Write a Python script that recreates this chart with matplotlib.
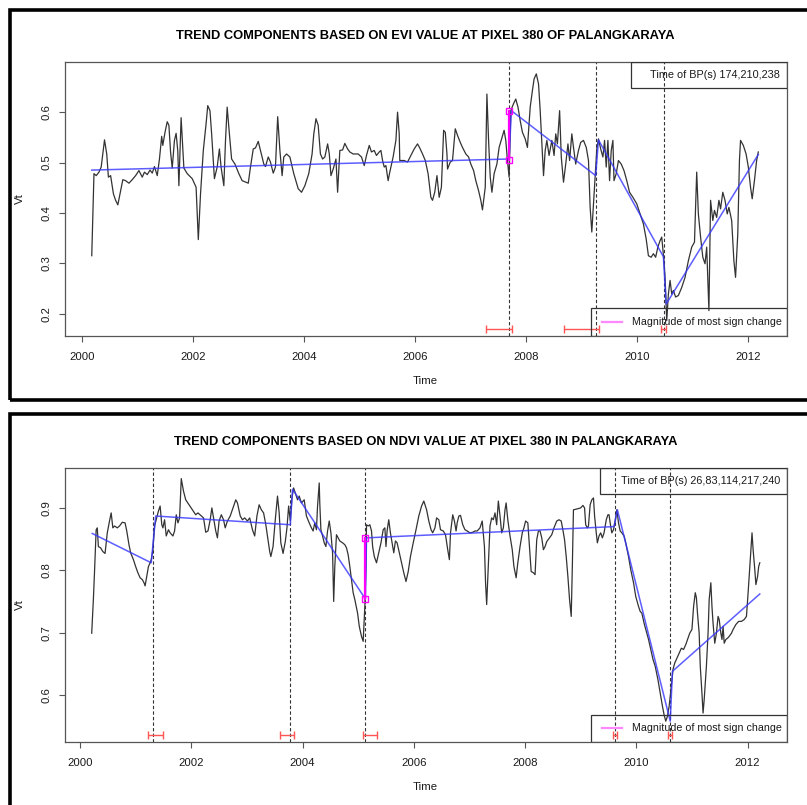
import matplotlib
matplotlib.use("Agg")
import matplotlib.pyplot as plt
from matplotlib.patches import Rectangle

plt.rcParams['font.family'] = ['Liberation Sans', 'DejaVu Sans']

# ---------------- EVI panel data ----------------
evi_title = "TREND COMPONENTS BASED ON EVI VALUE AT PIXEL 380 OF PALANGKARAYA"
evi_time = [
    2000.17, 2000.21, 2000.25, 2000.30, 2000.34, 2000.40, 2000.44, 2000.47, 2000.51, 2000.56,
    2000.60, 2000.64, 2000.69, 2000.73, 2000.78, 2000.84, 2000.90, 2000.96, 2001.02, 2001.08,
    2001.12, 2001.17, 2001.22, 2001.26, 2001.30, 2001.35, 2001.39, 2001.43, 2001.45, 2001.49,
    2001.53, 2001.56, 2001.59, 2001.62, 2001.66, 2001.69, 2001.72, 2001.74, 2001.78, 2001.81,
    2001.83, 2001.89, 2001.98, 2002.05, 2002.09, 2002.13, 2002.18, 2002.23, 2002.26, 2002.30,
    2002.33, 2002.36, 2002.38, 2002.43, 2002.47, 2002.50, 2002.55, 2002.58, 2002.61, 2002.65,
    2002.69, 2002.75, 2002.82, 2002.88, 2002.99, 2003.03, 2003.08, 2003.12, 2003.17, 2003.21,
    2003.27, 2003.30, 2003.35, 2003.39, 2003.44, 2003.48, 2003.52, 2003.56, 2003.60, 2003.63,
    2003.68, 2003.74, 2003.81, 2003.89, 2003.95, 2004.01, 2004.08, 2004.14, 2004.17, 2004.21,
    2004.25, 2004.29, 2004.33, 2004.37, 2004.42, 2004.45, 2004.48, 2004.52, 2004.57, 2004.60,
    2004.64, 2004.69, 2004.73, 2004.78, 2004.82, 2004.88, 2004.97, 2005.03, 2005.08, 2005.12,
    2005.17, 2005.21, 2005.26, 2005.30, 2005.35, 2005.38, 2005.41, 2005.44, 2005.47, 2005.51,
    2005.54, 2005.60, 2005.65, 2005.68, 2005.71, 2005.72, 2005.75, 2005.80, 2005.86, 2005.92,
    2005.98, 2006.04, 2006.08, 2006.13, 2006.18, 2006.23, 2006.28, 2006.31, 2006.35, 2006.39,
    2006.43, 2006.47, 2006.51, 2006.54, 2006.57, 2006.58, 2006.63, 2006.67, 2006.72, 2006.76,
    2006.81, 2006.85, 2006.91, 2006.96, 2007.00, 2007.05, 2007.09, 2007.14, 2007.18, 2007.21,
    2007.26, 2007.29, 2007.32, 2007.35, 2007.38, 2007.42, 2007.47, 2007.51, 2007.56, 2007.60,
    2007.63, 2007.66, 2007.69, 2007.72, 2007.77, 2007.81, 2007.85, 2007.89, 2007.93, 2007.98,
    2008.02, 2008.07, 2008.11, 2008.14, 2008.18, 2008.22, 2008.25, 2008.28, 2008.31, 2008.34,
    2008.37, 2008.41, 2008.46, 2008.50, 2008.53, 2008.56, 2008.60, 2008.63, 2008.67, 2008.71,
    2008.75, 2008.78, 2008.82, 2008.85, 2008.89, 2008.94, 2008.98, 2009.03, 2009.08, 2009.12,
    2009.15, 2009.18, 2009.21, 2009.24, 2009.27, 2009.30, 2009.34, 2009.38, 2009.41, 2009.44,
    2009.47, 2009.50, 2009.53, 2009.56, 2009.58, 2009.62, 2009.66, 2009.71, 2009.76, 2009.81,
    2009.86, 2009.92, 2009.99, 2010.05, 2010.11, 2010.16, 2010.20, 2010.25, 2010.29, 2010.33,
    2010.37, 2010.41, 2010.44, 2010.48, 2010.50, 2010.53, 2010.56, 2010.59, 2010.62, 2010.65,
    2010.69, 2010.74, 2010.80, 2010.86, 2010.92, 2010.98, 2011.03, 2011.07, 2011.10, 2011.14,
    2011.18, 2011.22, 2011.25, 2011.29, 2011.32, 2011.36, 2011.39, 2011.43, 2011.47, 2011.50,
    2011.54, 2011.58, 2011.62, 2011.65, 2011.70, 2011.74, 2011.77, 2011.81, 2011.84, 2011.86,
    2011.91, 2011.96, 2012.00, 2012.04, 2012.07, 2012.11, 2012.15, 2012.18,
]
evi_value = [
    0.315, 0.478, 0.474, 0.481, 0.491, 0.545, 0.517, 0.471, 0.474, 0.438,
    0.425, 0.416, 0.444, 0.466, 0.464, 0.459, 0.466, 0.474, 0.484, 0.471,
    0.481, 0.476, 0.485, 0.479, 0.492, 0.474, 0.507, 0.552, 0.534, 0.560,
    0.581, 0.574, 0.521, 0.489, 0.544, 0.558, 0.523, 0.454, 0.589, 0.530,
    0.489, 0.478, 0.468, 0.451, 0.347, 0.438, 0.524, 0.577, 0.613, 0.603,
    0.557, 0.504, 0.468, 0.491, 0.527, 0.491, 0.454, 0.544, 0.610, 0.557,
    0.507, 0.497, 0.478, 0.464, 0.459, 0.491, 0.527, 0.529, 0.542, 0.524,
    0.497, 0.492, 0.511, 0.501, 0.479, 0.491, 0.591, 0.524, 0.474, 0.511,
    0.517, 0.511, 0.478, 0.448, 0.441, 0.454, 0.478, 0.517, 0.556, 0.587,
    0.574, 0.517, 0.507, 0.511, 0.537, 0.517, 0.474, 0.487, 0.507, 0.441,
    0.524, 0.525, 0.538, 0.527, 0.521, 0.517, 0.517, 0.511, 0.494, 0.514,
    0.534, 0.521, 0.524, 0.514, 0.521, 0.524, 0.504, 0.491, 0.494, 0.464,
    0.481, 0.511, 0.544, 0.600, 0.557, 0.504, 0.504, 0.504, 0.501, 0.514,
    0.527, 0.537, 0.529, 0.517, 0.504, 0.478, 0.431, 0.425, 0.441, 0.474,
    0.431, 0.451, 0.564, 0.560, 0.517, 0.487, 0.501, 0.504, 0.567, 0.554,
    0.540, 0.530, 0.517, 0.511, 0.497, 0.484, 0.464, 0.444, 0.425, 0.406,
    0.451, 0.636, 0.544, 0.471, 0.441, 0.478, 0.497, 0.530, 0.549, 0.564,
    0.544, 0.504, 0.471, 0.603, 0.617, 0.626, 0.610, 0.583, 0.560, 0.547,
    0.530, 0.610, 0.643, 0.666, 0.676, 0.656, 0.603, 0.537, 0.474, 0.524,
    0.544, 0.514, 0.544, 0.514, 0.557, 0.537, 0.603, 0.511, 0.461, 0.497,
    0.537, 0.504, 0.557, 0.530, 0.497, 0.524, 0.540, 0.544, 0.530, 0.504,
    0.411, 0.362, 0.418, 0.474, 0.527, 0.547, 0.527, 0.511, 0.544, 0.491,
    0.544, 0.464, 0.524, 0.544, 0.464, 0.478, 0.504, 0.497, 0.484, 0.464,
    0.441, 0.431, 0.418, 0.398, 0.378, 0.348, 0.315, 0.312, 0.319, 0.312,
    0.332, 0.345, 0.352, 0.305, 0.272, 0.186, 0.239, 0.266, 0.239, 0.246,
    0.233, 0.236, 0.252, 0.272, 0.305, 0.332, 0.342, 0.481, 0.398, 0.352,
    0.312, 0.299, 0.332, 0.206, 0.425, 0.385, 0.405, 0.391, 0.425, 0.408,
    0.441, 0.425, 0.398, 0.411, 0.385, 0.305, 0.272, 0.358, 0.504, 0.544,
    0.534, 0.517, 0.491, 0.451, 0.428, 0.464, 0.504, 0.521,
]
evi_trend_time = [2000.17, 2007.69, 2007.73, 2009.25, 2009.30, 2010.47, 2010.52, 2012.18]
evi_trend_value = [0.485, 0.507, 0.603, 0.474, 0.545, 0.313, 0.219, 0.516]
evi_bp = [174, 210, 238]
evi_start = 2000 + 4 / 23
evi_ci_low = [2007.27, 2008.67, 2010.43]
evi_ci_high = [2007.74, 2009.31, 2010.52]
evi_mag = (2007.69, 0.505, 0.602)

# ---------------- NDVI panel data ----------------
ndvi_title = "TREND COMPONENTS BASED ON NDVI VALUE AT PIXEL 380 IN PALANGKARAYA"
ndvi_time = [
    2000.21, 2000.24, 2000.26, 2000.29, 2000.31, 2000.33, 2000.37, 2000.41, 2000.45, 2000.49,
    2000.53, 2000.56, 2000.59, 2000.62, 2000.67, 2000.71, 2000.76, 2000.81, 2000.84, 2000.88,
    2000.91, 2000.96, 2001.00, 2001.04, 2001.08, 2001.12, 2001.15, 2001.17, 2001.20, 2001.23,
    2001.26, 2001.28, 2001.31, 2001.34, 2001.37, 2001.41, 2001.44, 2001.47, 2001.49, 2001.52,
    2001.55, 2001.59, 2001.62, 2001.67, 2001.70, 2001.73, 2001.76, 2001.79, 2001.82, 2001.86,
    2001.90, 2001.96, 2002.02, 2002.08, 2002.12, 2002.17, 2002.22, 2002.26, 2002.30, 2002.34,
    2002.37, 2002.41, 2002.44, 2002.47, 2002.50, 2002.54, 2002.58, 2002.61, 2002.65, 2002.70,
    2002.75, 2002.80, 2002.83, 2002.88, 2002.92, 2002.96, 2003.01, 2003.05, 2003.10, 2003.14,
    2003.18, 2003.22, 2003.26, 2003.30, 2003.34, 2003.37, 2003.41, 2003.43, 2003.47, 2003.51,
    2003.55, 2003.58, 2003.61, 2003.65, 2003.69, 2003.72, 2003.75, 2003.78, 2003.81, 2003.84,
    2003.87, 2003.91, 2003.94, 2003.98, 2004.03, 2004.07, 2004.12, 2004.16, 2004.19, 2004.22,
    2004.25, 2004.27, 2004.30, 2004.31, 2004.33, 2004.36, 2004.39, 2004.42, 2004.45, 2004.48,
    2004.51, 2004.54, 2004.56, 2004.58, 2004.61, 2004.64, 2004.67, 2004.72, 2004.76, 2004.79,
    2004.82, 2004.85, 2004.88, 2004.91, 2004.94, 2004.99, 2005.02, 2005.06, 2005.09, 2005.12,
    2005.14, 2005.15, 2005.18, 2005.21, 2005.24, 2005.26, 2005.29, 2005.33, 2005.37, 2005.41,
    2005.45, 2005.48, 2005.50, 2005.52, 2005.55, 2005.58, 2005.61, 2005.64, 2005.67, 2005.70,
    2005.74, 2005.78, 2005.82, 2005.86, 2005.90, 2005.94, 2005.99, 2006.04, 2006.09, 2006.14,
    2006.18, 2006.23, 2006.27, 2006.31, 2006.34, 2006.38, 2006.41, 2006.45, 2006.48, 2006.53,
    2006.57, 2006.61, 2006.64, 2006.66, 2006.70, 2006.73, 2006.76, 2006.78, 2006.81, 2006.84,
    2006.88, 2006.92, 2006.96, 2007.01, 2007.06, 2007.10, 2007.14, 2007.19, 2007.23, 2007.27,
    2007.29, 2007.31, 2007.34, 2007.37, 2007.40, 2007.43, 2007.46, 2007.49, 2007.52, 2007.55,
    2007.58, 2007.61, 2007.64, 2007.66, 2007.69, 2007.73, 2007.77, 2007.80, 2007.84, 2007.87,
    2007.91, 2007.95, 2007.98, 2008.01, 2008.05, 2008.08, 2008.11, 2008.15, 2008.18, 2008.21,
    2008.24, 2008.27, 2008.30, 2008.33, 2008.36, 2008.39, 2008.44, 2008.48, 2008.52, 2008.57,
    2008.61, 2008.65, 2008.68, 2008.71, 2008.74, 2008.77, 2008.80, 2008.83, 2008.85, 2008.87,
    2008.92, 2008.96, 2009.00, 2009.04, 2009.07, 2009.09, 2009.12, 2009.14, 2009.17, 2009.20,
    2009.23, 2009.25, 2009.28, 2009.30, 2009.33, 2009.36, 2009.39, 2009.42, 2009.46, 2009.49,
    2009.51, 2009.53, 2009.56, 2009.59, 2009.62, 2009.65, 2009.68, 2009.71, 2009.74, 2009.78,
    2009.81, 2009.86, 2009.90, 2009.95, 2009.99, 2010.04, 2010.07, 2010.10, 2010.14, 2010.17,
    2010.22, 2010.26, 2010.30, 2010.34, 2010.39, 2010.43, 2010.47, 2010.50, 2010.53, 2010.56,
    2010.59, 2010.61, 2010.64, 2010.66, 2010.69, 2010.72, 2010.77, 2010.81, 2010.85, 2010.89,
    2010.93, 2010.96, 2011.00, 2011.03, 2011.06, 2011.08, 2011.10, 2011.13, 2011.15, 2011.18,
    2011.20, 2011.22, 2011.26, 2011.29, 2011.31, 2011.34, 2011.36, 2011.38, 2011.41, 2011.44,
    2011.47, 2011.49, 2011.52, 2011.54, 2011.56, 2011.58, 2011.61, 2011.64, 2011.67, 2011.71,
    2011.74, 2011.79, 2011.84, 2011.89, 2011.94, 2011.98, 2012.01, 2012.04, 2012.08, 2012.10,
    2012.13, 2012.15, 2012.18, 2012.20, 2012.22,
]
ndvi_value = [
    0.699, 0.753, 0.796, 0.865, 0.868, 0.838, 0.836, 0.830, 0.827, 0.860,
    0.879, 0.892, 0.868, 0.871, 0.868, 0.871, 0.877, 0.876, 0.863, 0.841,
    0.828, 0.817, 0.806, 0.796, 0.788, 0.785, 0.780, 0.775, 0.790, 0.806,
    0.812, 0.817, 0.833, 0.871, 0.881, 0.895, 0.903, 0.873, 0.868, 0.881,
    0.855, 0.865, 0.860, 0.855, 0.863, 0.889, 0.876, 0.884, 0.947, 0.927,
    0.913, 0.905, 0.897, 0.889, 0.892, 0.888, 0.884, 0.861, 0.863, 0.881,
    0.900, 0.879, 0.863, 0.852, 0.879, 0.889, 0.881, 0.868, 0.879, 0.887,
    0.900, 0.913, 0.908, 0.887, 0.881, 0.884, 0.879, 0.884, 0.865, 0.855,
    0.887, 0.905, 0.897, 0.892, 0.873, 0.855, 0.830, 0.822, 0.838, 0.881,
    0.919, 0.892, 0.844, 0.827, 0.846, 0.868, 0.903, 0.879, 0.916, 0.932,
    0.924, 0.913, 0.919, 0.908, 0.913, 0.887, 0.876, 0.868, 0.863, 0.876,
    0.865, 0.903, 0.940, 0.908, 0.865, 0.855, 0.844, 0.838, 0.863, 0.879,
    0.860, 0.828, 0.750, 0.806, 0.857, 0.852, 0.847, 0.844, 0.841, 0.836,
    0.825, 0.806, 0.785, 0.764, 0.753, 0.731, 0.710, 0.694, 0.686, 0.742,
    0.806, 0.873, 0.871, 0.873, 0.863, 0.838, 0.822, 0.812, 0.828, 0.844,
    0.865, 0.868, 0.838, 0.863, 0.881, 0.860, 0.844, 0.828, 0.847, 0.844,
    0.828, 0.812, 0.796, 0.782, 0.798, 0.822, 0.844, 0.865, 0.887, 0.903,
    0.911, 0.897, 0.879, 0.865, 0.860, 0.868, 0.884, 0.881, 0.865, 0.863,
    0.857, 0.833, 0.817, 0.860, 0.889, 0.879, 0.863, 0.876, 0.887, 0.888,
    0.873, 0.865, 0.863, 0.860, 0.861, 0.863, 0.863, 0.868, 0.879, 0.838,
    0.780, 0.745, 0.806, 0.871, 0.884, 0.881, 0.892, 0.873, 0.911, 0.887,
    0.860, 0.868, 0.897, 0.908, 0.881, 0.855, 0.833, 0.806, 0.788, 0.812,
    0.838, 0.860, 0.868, 0.879, 0.876, 0.838, 0.798, 0.796, 0.793, 0.849,
    0.863, 0.863, 0.852, 0.833, 0.838, 0.846, 0.852, 0.857, 0.868, 0.879,
    0.881, 0.879, 0.865, 0.849, 0.822, 0.790, 0.753, 0.726, 0.806, 0.897,
    0.898, 0.899, 0.900, 0.904, 0.900, 0.873, 0.868, 0.871, 0.905, 0.913,
    0.916, 0.887, 0.860, 0.844, 0.855, 0.860, 0.852, 0.860, 0.881, 0.889,
    0.889, 0.876, 0.860, 0.865, 0.879, 0.897, 0.876, 0.863, 0.860, 0.855,
    0.844, 0.822, 0.801, 0.780, 0.758, 0.742, 0.734, 0.731, 0.715, 0.705,
    0.689, 0.673, 0.657, 0.646, 0.624, 0.603, 0.582, 0.568, 0.558, 0.566,
    0.582, 0.598, 0.624, 0.641, 0.651, 0.657, 0.667, 0.675, 0.673, 0.681,
    0.691, 0.699, 0.705, 0.742, 0.764, 0.756, 0.731, 0.699, 0.646, 0.603,
    0.571, 0.592, 0.646, 0.699, 0.753, 0.780, 0.742, 0.715, 0.683, 0.699,
    0.726, 0.721, 0.699, 0.689, 0.710, 0.683, 0.689, 0.691, 0.694, 0.699,
    0.705, 0.713, 0.718, 0.718, 0.721, 0.726, 0.764, 0.806, 0.860, 0.833,
    0.801, 0.777, 0.790, 0.806, 0.812,
]
ndvi_trend_time = [2000.22, 2001.28, 2001.36, 2003.78, 2003.82, 2005.13, 2005.15,
                   2009.60, 2009.66, 2010.61, 2010.65, 2012.22]
ndvi_trend_value = [0.859, 0.812, 0.887, 0.873, 0.930, 0.754, 0.852,
                    0.870, 0.897, 0.558, 0.638, 0.762]
ndvi_bp = [26, 83, 114, 217, 240]
ndvi_start = 2000 + 5 / 23
ndvi_ci_low = [2001.22, 2003.60, 2005.08, 2009.59, 2010.57]
ndvi_ci_high = [2001.49, 2003.84, 2005.33, 2009.66, 2010.64]
ndvi_mag = (2005.13, 0.754, 0.852)

x_ticks = [2000, 2002, 2004, 2006, 2008, 2010, 2012]

# ---------------- figure ----------------
W, H = 807, 805
fig = plt.figure(figsize=(W / 100, H / 100), dpi=100)
TXT = '#1a1a1a'
GRAY = '#555555'


def box(l, t, r, b):
    return [l / W, 1 - b / H, (r - l) / W, (b - t) / H]


def panel(frame_top, frame_bottom, ax_top, ax_bottom, title, t, v, tt, tv, bps, start,
          cil, cih, mag, xlim, ylim, yticks, bp_box_left, title_y, xlab_y):
    # outer black frame of the panel
    fig.add_artist(Rectangle((10 / W, 1 - frame_bottom / H), 1.0, (frame_bottom - frame_top) / H,
                             transform=fig.transFigure, fill=False, lw=2.6, ec='black'))
    ax = fig.add_axes(box(65, ax_top, 786.5, ax_bottom))
    ax.plot(t, v, color='#333333', lw=0.9, zorder=3)
    ax.plot(tt, tv, color='#3535ff', lw=1.1, alpha=0.8, zorder=4)
    bp_times = [start + (b - 1) / 23 for b in bps]
    for bt in bp_times:
        ax.axvline(bt, color='#333333', lw=0.8, ls=(0, (3, 2)), zorder=2)
    yci = ylim[0] + 0.025 * (ylim[1] - ylim[0])
    for lo, hi in zip(cil, cih):
        mid = (lo + hi) / 2
        ax.errorbar([mid], [yci], xerr=[[mid - lo], [hi - mid]], fmt='none',
                    ecolor='#ff5555', elinewidth=1.0, capsize=3.2, capthick=1.0, zorder=5)
    mt, mlo, mhi = mag
    ax.plot([mt, mt], [mlo, mhi], color='#ff00ff', lw=1.6, zorder=6)
    ax.plot([mt, mt], [mlo, mhi], ls='none', marker='s', ms=5, mfc='none',
            mec='#ff00ff', mew=1.0, zorder=7)
    ax.set_xlim(*xlim)
    ax.set_ylim(*ylim)
    ax.set_xticks(x_ticks)
    ax.set_xticklabels([str(x) for x in x_ticks])
    ax.set_yticks(yticks)
    ax.set_yticklabels([f"{y:g}" for y in yticks], rotation=90, va='center')
    ax.tick_params(axis='both', length=4, width=0.8, color=GRAY, labelcolor=TXT, labelsize=8.2)
    ax.tick_params(axis='x', pad=7.5)
    ax.tick_params(axis='y', pad=5.5)
    for s in ax.spines.values():
        s.set_color(GRAY)
        s.set_linewidth(0.9)
    # BP legend box
    bx = (bp_box_left - 65) / 721.5
    ah = ax_bottom - ax_top
    by = 1 - 26.5 / ah
    ax.add_patch(Rectangle((bx, by), 1 - bx, 1 - by, transform=ax.transAxes, fill=False,
                           ec='#333333', lw=0.9, zorder=8))
    ax.text(0.991, (by + 1) / 2, "Time of BP(s) " + ",".join(str(b) for b in bps),
            transform=ax.transAxes, ha='right', va='center', fontsize=7.8, color=TXT, zorder=9)
    # magnitude legend box
    mx = (591 - 65) / 721.5
    my = 27.5 / ah
    ax.add_patch(Rectangle((mx, 0), 1 - mx, my, transform=ax.transAxes, fill=False,
                           ec='#333333', lw=0.9, zorder=8))
    ax.plot([0.744, 0.772], [my / 2, my / 2], transform=ax.transAxes, color='#ff88ff',
            lw=1.6, zorder=9)
    ax.text(0.786, my / 2, "Magnitude of most sign change", transform=ax.transAxes,
            ha='left', va='center', fontsize=7.7, color=TXT, zorder=9)
    fig.text(425.5 / W, 1 - title_y / H, title, ha='center', va='center',
             fontsize=9.3, fontweight='bold', color='black')
    fig.text(425.5 / W, 1 - xlab_y / H, "Time", ha='center', va='center', fontsize=8.2, color=TXT)
    fig.text(20 / W, 1 - ((ax_top + ax_bottom) / 2) / H, "Vt", ha='center', va='center',
             rotation=90, fontsize=8.2, color=TXT)
    return ax


panel(10, 400, 61.5, 336, evi_title, evi_time, evi_value, evi_trend_time, evi_trend_value,
      evi_bp, evi_start, evi_ci_low, evi_ci_high, evi_mag,
      (1999.688, 2012.688), (0.1556, 0.7006), [0.2, 0.3, 0.4, 0.5, 0.6], 631, 35.7, 381.5)
panel(414, 830, 468, 742, ndvi_title, ndvi_time, ndvi_value, ndvi_trend_time, ndvi_trend_value,
      ndvi_bp, ndvi_start, ndvi_ci_low, ndvi_ci_high, ndvi_mag,
      (1999.73, 2012.70), (0.5246, 0.964), [0.6, 0.7, 0.8, 0.9], 599.6, 442, 787)

fig.savefig("out.png", dpi=100)
